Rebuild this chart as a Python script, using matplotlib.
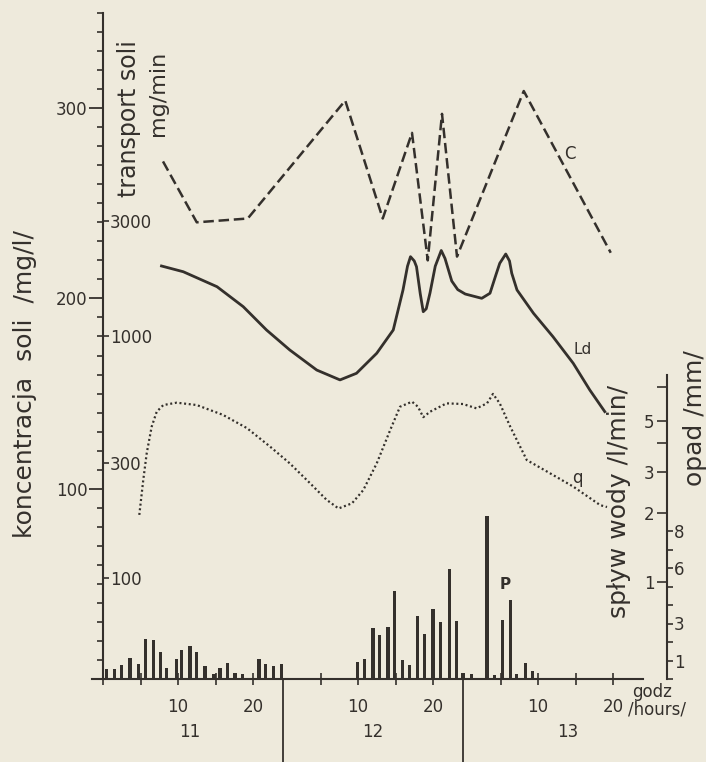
import numpy as np
import matplotlib
matplotlib.use("Agg")
import matplotlib.pyplot as plt
from matplotlib.ticker import FixedLocator, FixedFormatter, NullFormatter

# ---------------- data ----------------
# C : salt concentration [mg/l]  (hours counted from 0 h of day 11)
c_hours = [8.0, 12.5, 19.3, 32.3, 37.3, 41.2, 43.3, 45.2, 47.2, 56.1, 67.7]
c_conc = [272, 240, 242, 304, 242, 287, 220, 297, 222, 309, 224]

# Ld : salt transport [mg/min]
ld_hours = [7.8, 10.7, 15.2, 18.7, 21.8, 24.9, 28.5, 31.6, 33.8, 36.5, 38.7,
            40.0, 40.6, 41.0, 41.5, 41.8, 42.3, 42.7, 43.1, 43.6, 44.3, 45.1,
            45.6, 46.5, 47.3, 48.3, 50.5, 51.6, 52.4, 52.9, 53.7, 54.2, 54.5,
            55.2, 57.4, 60.0, 62.7, 64.9, 66.9]
ld_transport = [1954, 1850, 1604, 1326, 1062, 878, 725, 660, 703, 851, 1062,
                1555, 1950, 2135, 2050, 1941, 1500, 1264, 1300, 1511, 1950, 2265,
                2100, 1693, 1560, 1496, 1436, 1507, 1800, 2005, 2190, 2050, 1823,
                1555, 1245, 996, 773, 600, 488]

# q : water runoff [l/min]
q_hours = [4.84, 5.37, 5.83, 6.49, 7.16, 8.04, 9.83, 12.5, 16.0, 19.2, 22.3,
           24.9, 27.6, 29.8, 31.4, 33.2, 34.7, 36.5, 38.3, 39.6, 41.2, 42.0,
           42.7, 43.6, 45.8, 48.0, 49.8, 51.2, 52.0, 52.9, 54.3, 56.5, 59.6,
           62.7, 66.3, 67.2]
q_runoff = [1.96, 2.78, 3.63, 4.73, 5.49, 5.87, 6.01, 5.87, 5.32, 4.66, 3.87,
            3.28, 2.69, 2.28, 2.09, 2.20, 2.51, 3.28, 4.58, 5.77, 6.07, 5.77,
            5.20, 5.49, 5.97, 5.93, 5.68, 5.97, 6.56, 5.97, 4.73, 3.39, 2.97,
            2.60, 2.16, 2.12]

# P : precipitation [mm]
p_hours = [0.5, 1.5, 2.5, 3.6, 4.7, 5.7, 6.7, 7.7, 8.5, 9.8, 10.5, 11.6, 12.5,
           13.6, 14.8, 15.6, 16.6, 17.6, 18.6, 20.8, 21.7, 22.7, 23.8,
           33.9, 34.9, 36.0, 36.9, 38.0, 38.9, 39.9, 40.9, 41.9, 42.9, 44.0,
           45.0, 46.2, 47.1, 48.0, 49.1, 51.2, 52.2, 53.3, 54.3, 55.1, 56.3, 57.3]
p_mm = [0.54, 0.54, 0.76, 1.15, 0.81, 2.16, 2.09, 1.48, 0.61, 1.08, 1.58, 1.77,
        1.48, 0.69, 0.29, 0.61, 0.85, 0.32, 0.29, 1.10, 0.79, 0.69, 0.81,
        0.94, 1.08, 2.76, 2.38, 2.81, 4.76, 1.03, 0.76, 3.41, 2.43, 3.81,
        3.08, 5.95, 3.14, 0.32, 0.27, 8.79, 0.22, 3.21, 4.27, 0.27, 0.86, 0.45]

conc_ticks = [100, 200, 300]
transport_ticks = [100, 300, 1000, 3000]
runoff_ticks = [1, 2, 3, 5]
runoff_minor = [4, 7]
opad_ticks = [1, 3, 6, 8]
hour_labels = ["10", "20", "10", "20", "10", "20"]
hour_label_pos = [10, 20, 34, 44, 58, 68]
hour_minor_pos = [0, 5, 15, 29, 39, 53, 63]
day_labels = ["11", "12", "13"]
day_label_pos = [11.6, 36.0, 62.0]
day_bounds = [24, 48]

# ---------------- style ----------------
BG = "#eeeadc"
INK = "#34302c"
W, H = 706, 762
plt.rcParams["font.family"] = ["DejaVu Sans"]
plt.rcParams["text.color"] = INK
plt.rcParams["axes.edgecolor"] = INK
plt.rcParams["xtick.color"] = INK
plt.rcParams["ytick.color"] = INK

fig = plt.figure(figsize=(W / 100, H / 100), dpi=100, facecolor=BG)

def fx(px):
    return px / W

def fy(py):
    return 1 - py / H

x0, x1, ytop, ybot = 103, 667, 13, 679
ax = fig.add_axes([fx(x0), fy(ybot), fx(x1) - fx(x0), fy(ytop) - fy(ybot)])
ax.set_facecolor(BG)
ax.set_xlim(0, (x1 - x0) / 7.5)
ax.set_ylim(0, 350)

# ---- concentration axis (left) ----
for s in ["top", "right"]:
    ax.spines[s].set_visible(False)
ax.spines["left"].set_linewidth(1.5)
ax.spines["bottom"].set_linewidth(1.5)
ax.spines["bottom"].set_bounds(-1.5, 72)
ax.yaxis.set_major_locator(FixedLocator(conc_ticks))
ax.yaxis.set_minor_locator(FixedLocator(list(range(0, 351, 10))))
ax.tick_params(axis="y", which="major", direction="out", length=10, width=1.3,
               labelsize=12, pad=1)
ax.tick_params(axis="y", which="minor", direction="out", length=4, width=1.2)
ax.xaxis.set_major_locator(FixedLocator(hour_label_pos))
ax.xaxis.set_major_formatter(FixedFormatter(hour_labels))
ax.xaxis.set_minor_locator(FixedLocator(hour_minor_pos))
ax.tick_params(axis="x", which="both", direction="inout", length=8, width=1.2,
               labelsize=12, pad=10)

ax.plot(c_hours, c_conc, color=INK, lw=1.8, ls=(0, (4.2, 1.9)), zorder=3)

# day separators and day labels
ax.vlines(day_bounds, -83 / 666, 0, transform=ax.get_xaxis_transform(),
          color=INK, lw=1.3, clip_on=False)
for lab, pos in zip(day_labels, day_label_pos):
    ax.text(pos, -(732 - 679) / 666, lab, transform=ax.get_xaxis_transform(),
            ha="center", va="center", fontsize=12)

# ---- transport axis (log, ticks on right side of left spine) ----
ax_t = ax.twinx()
ax_t.set_yscale("log")
ax_t.set_ylim(38.2, 21760)
for s in ["top", "left", "bottom", "right"]:
    ax_t.spines[s].set_visible(False)
ax_t.spines["right"].set_position(("axes", 0.0))
ax_t.yaxis.set_major_locator(FixedLocator(transport_ticks))
ax_t.yaxis.set_major_formatter(FixedFormatter([str(v) for v in transport_ticks]))
ax_t.yaxis.set_minor_locator(FixedLocator([]))
ax_t.tick_params(axis="y", which="major", direction="out", length=4, width=1.2,
                 labelsize=12, pad=1)
ax_t.plot(ld_hours, ld_transport, color=INK, lw=2.0, solid_joinstyle="round",
          zorder=3)

# ---- runoff axis (log, right spine, labels on its left) ----
ax_q = ax.twinx()
ax_q.set_yscale("log")
ax_q.set_ylim(0.3807, 294.3)
for s in ["top", "right", "bottom"]:
    ax_q.spines[s].set_visible(False)
ax_q.yaxis.tick_left()
ax_q.spines["left"].set_visible(True)
ax_q.spines["left"].set_position(("axes", 1.0))
ax_q.spines["left"].set_linewidth(1.5)
ax_q.spines["left"].set_bounds(0.3807, 7.93)
ax_q.yaxis.set_major_locator(FixedLocator(runoff_ticks))
ax_q.yaxis.set_major_formatter(FixedFormatter([str(v) for v in runoff_ticks]))
ax_q.yaxis.set_minor_locator(FixedLocator(runoff_minor))
ax_q.yaxis.set_minor_formatter(NullFormatter())
ax_q.tick_params(axis="y", which="both", direction="out", length=7, width=1.2,
                 labelsize=12, pad=2)
ax_q.plot(q_hours, q_runoff, color=INK, lw=1.6, ls=(0, (0.9, 1.2)), zorder=3)

# ---- precipitation axis (linear, ticks on right) ----
ax_p = ax.twinx()
ax_p.set_ylim(0, 666 / 18.5)
for s in ["top", "left", "bottom", "right"]:
    ax_p.spines[s].set_visible(False)
ax_p.yaxis.set_major_locator(FixedLocator(opad_ticks))
ax_p.yaxis.set_major_formatter(FixedFormatter([str(v) for v in opad_ticks]))
ax_p.yaxis.set_minor_locator(FixedLocator(list(range(0, 9))))
ax_p.tick_params(axis="y", which="both", direction="out", length=4, width=1.2,
                 labelsize=12, pad=1)
ax_p.bar(p_hours, p_mm, width=0.42, color=INK, zorder=3)

# ---- series labels ----
ax.text(62.3, 276, "C", fontsize=12, ha="center", va="center")
ax.text(63.9, 173, "Ld", fontsize=11, ha="center", va="center")
ax.text(63.2, 105.6, "q", fontsize=12, ha="center", va="center")
ax.text(53.6, 49.9, "P", fontsize=11, ha="center", va="center", fontweight="bold")

# ---- axis titles ----
fig.text(fx(25), fy(384), "koncentracja  soli  /mg/l/", rotation=90,
         ha="center", va="center", fontsize=18)
fig.text(fx(129), fy(119), "transport soli", rotation=90,
         ha="center", va="center", fontsize=17)
fig.text(fx(158), fy(93), "mg/min", rotation=90,
         ha="center", va="center", fontsize=16)
fig.text(fx(619), fy(502), "spływ wody /l/min/", rotation=90,
         ha="center", va="center", fontsize=18)
fig.text(fx(695), fy(418), "opad /mm/", rotation=90,
         ha="center", va="center", fontsize=18)
fig.text(fx(652), fy(692), "godz", ha="center", va="center", fontsize=12)
fig.text(fx(657), fy(709), "/hours/", ha="center", va="center", fontsize=12)

fig.savefig("out.png", dpi=100, facecolor=BG)
